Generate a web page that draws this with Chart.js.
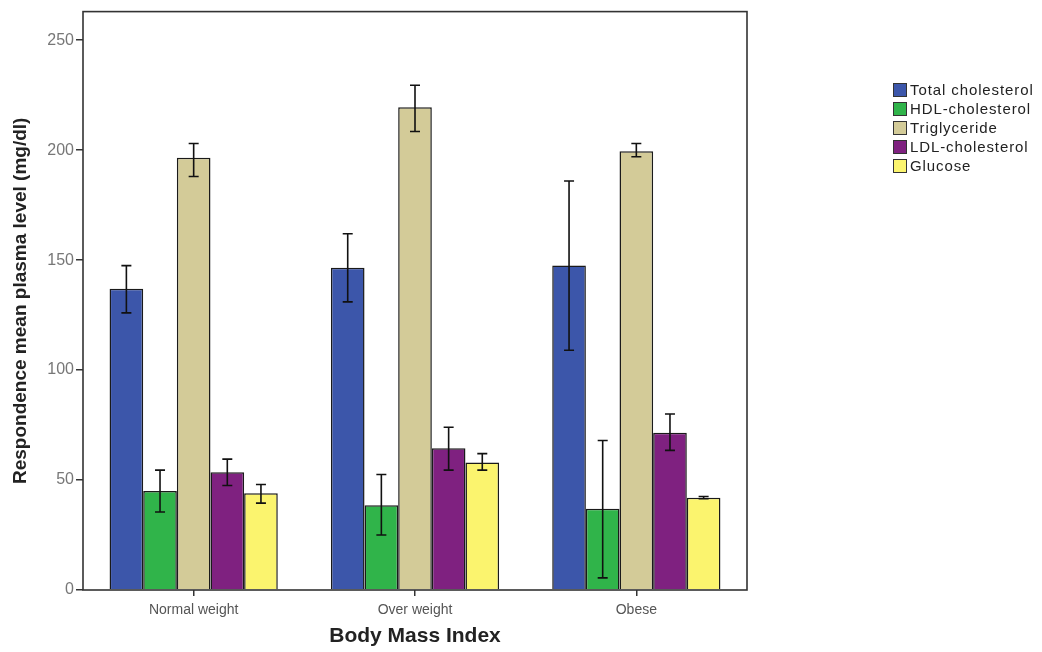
<!DOCTYPE html>
<html>
<head>
<meta charset="utf-8">
<script src="https://cdn.jsdelivr.net/npm/chart.js@4.4.1/dist/chart.umd.min.js"></script>
<style>
    body { margin: 0; background: #fff; }
    #wrap { position: relative; width: 1042px; height: 652px; }
    #legend { position: absolute; left: 893px; top: 80px; font-family: "Liberation Sans", Arial, sans-serif; font-size: 15px; letter-spacing: 0.9px; color: #222; }
    #legend div { height: 19px; line-height: 19px; white-space: nowrap; }
    #legend span { display: inline-block; width: 12px; height: 12px; border: 1px solid #333; vertical-align: -2px; margin-right: 3px; }
</style>
</head>
<body>
<div id="wrap">
    <canvas id="Chart1" width="1042" height="652"></canvas>
    <div id="legend"></div>
</div>
<script>
var categories = ["Normal weight", "Over weight", "Obese"];
var seriesNames = ["Total cholesterol", "HDL-cholesterol", "Triglyceride", "LDL-cholesterol", "Glucose"];
var seriesColors = ["#3c56aa", "#30b44a", "#d3cb98", "#7f2180", "#fbf46e"];

// means
var totalChol = [137, 146.5, 147.5];
var hdlChol = [45, 38.5, 37];
var trigly = [196.5, 219.5, 199.5];
var ldlChol = [53.5, 64.5, 71.5];
var glucose = [44, 58, 42];

// error bar low / high
var totalCholErr = [[126, 147.5], [131, 162], [109, 186]];
var hdlCholErr = [[35.5, 54.5], [25, 52.5], [5.5, 68]];
var triglyErr = [[188, 203], [208.5, 229.5], [197, 203]];
var ldlCholErr = [[47.5, 59.5], [54.5, 74], [63.5, 80]];
var glucoseErr = [[39.5, 48], [54.5, 62], [41.5, 42.5]];

var yTicks = [0, 50, 100, 150, 200, 250];

var allData = [totalChol, hdlChol, trigly, ldlChol, glucose];
var allErr = [totalCholErr, hdlCholErr, triglyErr, ldlCholErr, glucoseErr];

var datasets = [];
for (var i = 0; i < seriesNames.length; i++) {
    datasets.push({
        label: seriesNames[i],
        data: allData[i],
        errBars: allErr[i],
        backgroundColor: seriesColors[i],
        borderColor: "#1a1a1a",
        borderWidth: 1.5,
        categoryPercentage: 0.76,
        barPercentage: 1.0
    });
}

// legend
var legendHtml = '';
for (var i = 0; i < seriesNames.length; i++) {
    legendHtml += '<div><span style="background:' + seriesColors[i] + '"></span>' + seriesNames[i] + '</div>';
}
document.getElementById("legend").innerHTML = legendHtml;

var errorBarPlugin = {
    id: 'errorBars',
    afterDatasetsDraw: function (chart) {
        var ctx = chart.ctx;
        var yScale = chart.scales.y;
        ctx.save();
        ctx.strokeStyle = "#111";
        ctx.lineWidth = 1.6;
        chart.data.datasets.forEach(function (ds, di) {
            var meta = chart.getDatasetMeta(di);
            meta.data.forEach(function (bar, idx) {
                var err = ds.errBars[idx];
                var x = bar.x;
                var yLo = yScale.getPixelForValue(err[0]);
                var yHi = yScale.getPixelForValue(err[1]);
                ctx.beginPath();
                ctx.moveTo(x, yLo); ctx.lineTo(x, yHi);
                ctx.moveTo(x - 5, yLo); ctx.lineTo(x + 5, yLo);
                ctx.moveTo(x - 5, yHi); ctx.lineTo(x + 5, yHi);
                ctx.stroke();
            });
        });
        ctx.restore();
    }
};

var framePlugin = {
    id: 'frame',
    afterDraw: function (chart) {
        var a = chart.chartArea;
        var ctx = chart.ctx;
        ctx.save();
        ctx.strokeStyle = "#333";
        ctx.lineWidth = 1.6;
        ctx.strokeRect(a.left, a.top, a.right - a.left, a.bottom - a.top);
        ctx.restore();
    }
};

var ctx1 = document.getElementById("Chart1");
var crt1 = new Chart(ctx1, {
    type: 'bar',
    data: { labels: categories, datasets: datasets },
    plugins: [errorBarPlugin, framePlugin],
    options: {
        responsive: false,
        animation: false,
        layout: { padding: { top: 11, right: 295, bottom: 3, left: 0 } },
        plugins: {
            legend: { display: false },
            tooltip: { enabled: false }
        },
        scales: {
            x: {
                afterFit: function (axis) { axis.height = 59; },
                grid: { display: true, drawOnChartArea: false, offset: false, tickLength: 6, color: "#333", lineWidth: 1.5 },
                border: { display: false },
                ticks: { color: "#555", padding: 6, font: { family: "Liberation Sans", size: 14 } },
                title: {
                    display: true,
                    text: "Body Mass Index",
                    color: "#222",
                    padding: { top: 2, bottom: 0 },
                    font: { family: "Liberation Sans", size: 21, weight: 'bold' }
                }
            },
            y: {
                min: 0,
                max: 263,
                afterFit: function (axis) { axis.width = 83; },
                afterBuildTicks: function (axis) {
                    axis.ticks = yTicks.map(function (v) { return { value: v }; });
                },
                grid: { display: true, drawOnChartArea: false, tickLength: 7, color: "#333", lineWidth: 1.5 },
                border: { display: false },
                ticks: { color: "#777", padding: 2, font: { family: "Liberation Sans", size: 16 } },
                title: {
                    display: true,
                    text: "Respondence mean plasma level (mg/dl)",
                    color: "#222",
                    padding: { top: 9, bottom: 0 },
                    font: { family: "Liberation Sans", size: 19, weight: 'bold' }
                }
            }
        }
    }
});
</script>
</body>
</html>
